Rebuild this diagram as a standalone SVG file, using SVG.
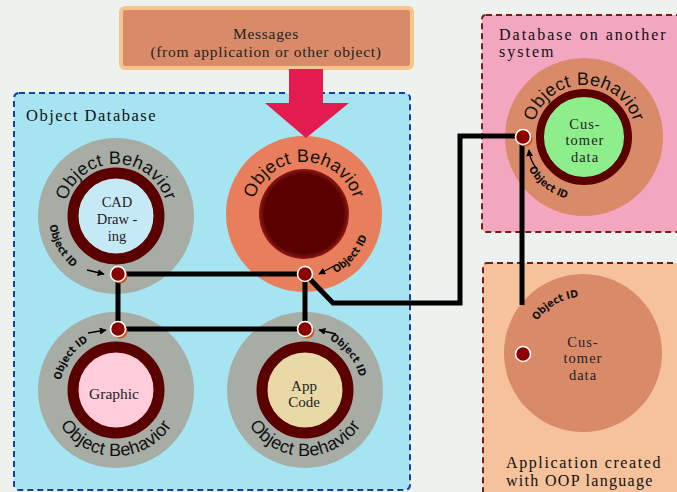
<svg xmlns="http://www.w3.org/2000/svg" width="677" height="492" viewBox="0 0 677 492">
<defs>
<style>
.ob{font-family:"Liberation Sans",Arial,sans-serif;font-size:18px;fill:#111;letter-spacing:0.3px}
.oid{font-family:"DejaVu Sans Condensed","DejaVu Sans",sans-serif;font-size:10.5px;font-weight:bold;fill:#111}
.ser{font-family:"Liberation Serif","Times New Roman",serif;fill:#222;text-anchor:middle}
.lbl{font-family:"Liberation Serif","Times New Roman",serif;fill:#111}
.conn{fill:none;stroke:#000;stroke-width:5;stroke-linejoin:miter}
.dot{fill:#8B0000;stroke:#fff;stroke-width:1.6}
.sh{fill:#D4501A}
.arr{fill:none;stroke:#000;stroke-width:1.4}
.ring{fill:none;stroke:#5A0000;stroke-width:11}
</style>
<marker id="ah" viewBox="0 0 10 10" refX="9" refY="5" markerWidth="7" markerHeight="7" orient="auto" markerUnits="userSpaceOnUse">
<path d="M0,0 L10,5 L0,10 z" fill="#000"/>
</marker>
<radialGradient id="dk" cx="50%" cy="50%" r="50%">
<stop offset="88%" stop-color="#5A0000"/>
<stop offset="100%" stop-color="#8E1A1A"/>
</radialGradient>
<path id="pTL" d="M64,216 A52 52 0 0 1 168,216"/>
<path id="pTR" d="M252,214 A52 52 0 0 1 356,214"/>
<path id="pBL" d="M50,390 A66 66 0 0 0 182,390"/>
<path id="pBR" d="M239,390 A66 66 0 0 0 371,390"/>
<path id="pRT" d="M532,137 A52 52 0 0 1 636,137"/>
<path id="iTL" d="M49.7,225.3 A67 67 0 0 0 98.7,280.7"/>
<path id="iTR" d="M335.4,273.2 A67 67 0 0 0 371,214"/>
<path id="iBL" d="M60.9,380.3 A56 56 0 0 1 106.3,334.8"/>
<path id="iBR" d="M329.5,339.7 A56 56 0 0 1 361,390"/>
<path id="iRT" d="M528.6,169 A64 64 0 0 0 595.1,200"/>
<path id="iRB" d="M537.1,320.9 A56 56 0 0 1 602.2,300.4"/>
</defs>
<rect width="677" height="492" fill="#EEF2EE"/>

<g id="messages">
<rect x="121" y="8" width="291" height="60" rx="4" fill="#D98B69" stroke="#F7C48E" stroke-width="4"/>
<text class="ser" x="266" y="39" font-size="15.5" letter-spacing="0.7">Messages</text>
<text class="ser" x="266" y="57" font-size="15.5" letter-spacing="0.7">(from application or other object)</text>
</g>

<g id="object-database">
<rect x="14" y="93" width="396" height="397" rx="5" fill="#A6E4F1" stroke="#1A3FA0" stroke-width="2" stroke-dasharray="6 4"/>
<text class="lbl" x="26" y="121" font-size="16.5" letter-spacing="1.5">Object Database</text>
</g>

<g id="db-another-system">
<rect x="482" y="15" width="205" height="217" rx="4" fill="#F2A6C0" stroke="#7A1A1A" stroke-width="2" stroke-dasharray="6 4"/>
<text class="lbl" x="499" y="40" font-size="16" letter-spacing="2">Database on another</text>
<text class="lbl" x="499" y="57" font-size="16" letter-spacing="2">system</text>
</g>

<g id="oop-application">
<rect x="483" y="263" width="205" height="240" rx="4" fill="#F5C29C" stroke="#7A1A1A" stroke-width="2" stroke-dasharray="6 4"/>
<text class="lbl" x="506" y="468" font-size="16" letter-spacing="1.6">Application created</text>
<text class="lbl" x="506" y="486" font-size="16" letter-spacing="1.3">with OOP language</text>
</g>

<g id="obj-cad">
<circle cx="116" cy="216" r="78" fill="#A7ACA5"/>
<circle cx="116" cy="216" r="38" fill="#C6E9F6"/>
<circle class="ring" cx="116" cy="216" r="43"/>
<text class="ser" x="117" y="207" font-size="14.5">CAD</text>
<text class="ser" x="117" y="224" font-size="14.5">Draw -</text>
<text class="ser" x="117" y="241" font-size="14.5">ing</text>
<text class="ob"><textPath href="#pTL" startOffset="50%" text-anchor="middle">Object Behavior</textPath></text>
<text class="oid"><textPath href="#iTL">Object ID</textPath></text>
<path class="arr" d="M87,270 L104,274" marker-end="url(#ah)"/>
</g>

<g id="obj-message-target">
<circle cx="304" cy="214" r="78" fill="#E87E5C"/>
<circle cx="304" cy="214" r="45" fill="url(#dk)"/>
<text class="ob"><textPath href="#pTR" startOffset="50%" text-anchor="middle">Object Behavior</textPath></text>
<text class="oid"><textPath href="#iTR">Object ID</textPath></text>
<path class="arr" d="M334,266 L319,274" marker-end="url(#ah)"/>
</g>

<g id="obj-graphic">
<circle cx="116" cy="390" r="78" fill="#A7ACA5"/>
<circle cx="116" cy="390" r="38" fill="#FFCCDB"/>
<circle class="ring" cx="116" cy="390" r="43"/>
<text class="ser" x="114" y="399" font-size="15.5">Graphic</text>
<text class="ob"><textPath href="#pBL" startOffset="50%" text-anchor="middle">Object Behavior</textPath></text>
<text class="oid"><textPath href="#iBL">Object ID</textPath></text>
<path class="arr" d="M88,333 L106,330" marker-end="url(#ah)"/>
</g>

<g id="obj-appcode">
<circle cx="305" cy="390" r="78" fill="#A7ACA5"/>
<circle cx="305" cy="390" r="38" fill="#E8D9A6"/>
<circle class="ring" cx="305" cy="390" r="43"/>
<text class="ser" x="304" y="391" font-size="15">App</text>
<text class="ser" x="304" y="407" font-size="15">Code</text>
<text class="ob"><textPath href="#pBR" startOffset="50%" text-anchor="middle">Object Behavior</textPath></text>
<text class="oid"><textPath href="#iBR">Object ID</textPath></text>
<path class="arr" d="M336,334 L319,330" marker-end="url(#ah)"/>
</g>

<g id="obj-customer-remote">
<circle cx="584" cy="137" r="79" fill="#D98B69"/>
<circle cx="584" cy="137" r="41" fill="#8EEE8C"/>
<circle cx="584" cy="137" r="44" fill="none" stroke="#5A0000" stroke-width="8"/>
<text class="ser" x="585" y="129" font-size="14.5" letter-spacing="1">Cus-</text>
<text class="ser" x="585" y="145" font-size="14.5" letter-spacing="1">tomer</text>
<text class="ser" x="585" y="162" font-size="14.5" letter-spacing="1">data</text>
<text class="ob"><textPath href="#pRT" startOffset="50%" text-anchor="middle">Object Behavior</textPath></text>
<text class="oid"><textPath href="#iRT">Object ID</textPath></text>
<path class="arr" d="M537,169 Q530,161 529,150" marker-end="url(#ah)"/>
</g>

<g id="obj-customer-app">
<circle cx="583" cy="353" r="79" fill="#D98B69"/>
<text class="ser" x="583" y="347" font-size="14.5" letter-spacing="1">Cus-</text>
<text class="ser" x="583" y="363" font-size="14.5" letter-spacing="1">tomer</text>
<text class="ser" x="583" y="380" font-size="14.5" letter-spacing="1">data</text>
<text class="oid"><textPath href="#iRB">Object ID</textPath></text>
</g>

<g id="message-arrow">
<path d="M289,69 H323 V103 H349 L306,138 L265,103 H289 Z" fill="#E31B4E"/>
</g>

<g id="connectors">
<path class="conn" d="M118,274 H305"/>
<path class="conn" d="M118,274 V329 H305 V274"/>
<path class="conn" d="M305,274 L333,303 H460 V136 H523"/>
<path class="conn" d="M522,137 V305"/>
</g>

<g id="object-ids">
<circle class="sh" cx="120" cy="276" r="7.5"/>
<circle class="dot" cx="118" cy="274" r="7.5"/>
<circle class="dot" cx="305" cy="274" r="7.5"/>
<circle class="sh" cx="120" cy="331" r="7.5"/>
<circle class="dot" cx="118" cy="329" r="7.5"/>
<circle class="sh" cx="307" cy="331" r="7.5"/>
<circle class="dot" cx="305" cy="329" r="7.5"/>
<circle class="sh" cx="525" cy="139" r="7.5"/>
<circle class="dot" cx="523" cy="137" r="7.5"/>
<circle class="dot" cx="523" cy="354" r="7.5"/>
</g>
</svg>
